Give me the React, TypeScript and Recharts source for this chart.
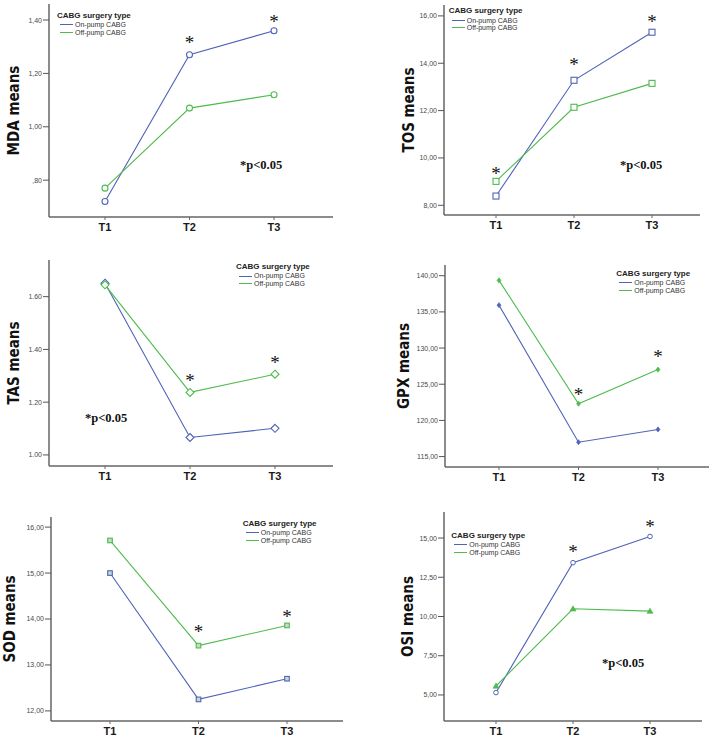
import { LineChart, Line, XAxis, YAxis, ReferenceDot } from 'recharts';

const timepoints = ['T1', 'T2', 'T3'];

const mdaOnPump = [0.72, 1.27, 1.36];
const mdaOffPump = [0.77, 1.07, 1.12];
const mdaTicks = [0.8, 1.0, 1.2, 1.4];
const mdaStars = [{ time: 'T2', value: 1.325 }, { time: 'T3', value: 1.404 }];

const tosOnPump = [8.39, 13.28, 15.31];
const tosOffPump = [9.01, 12.14, 13.15];
const tosTicks = [8, 10, 12, 14, 16];
const tosStars = [{ time: 'T1', value: 9.42 }, { time: 'T2', value: 14.03 }, { time: 'T3', value: 15.86 }];

const tasOnPump = [1.651, 1.066, 1.101];
const tasOffPump = [1.645, 1.237, 1.306];
const tasTicks = [1.0, 1.2, 1.4, 1.6];
const tasStars = [{ time: 'T2', value: 1.29 }, { time: 'T3', value: 1.359 }];

const gpxOnPump = [135.93, 116.98, 118.75];
const gpxOffPump = [139.36, 122.31, 127.02];
const gpxTicks = [115, 120, 125, 130, 135, 140];
const gpxStars = [{ time: 'T2', value: 123.84 }, { time: 'T3', value: 129.2 }];

const sodOnPump = [15.0, 12.25, 12.7];
const sodOffPump = [15.71, 13.42, 13.86];
const sodTicks = [12, 13, 14, 15, 16];
const sodStars = [{ time: 'T2', value: 13.77 }, { time: 'T3', value: 14.11 }];

const osiOnPump = [5.15, 13.43, 15.1];
const osiOffPump = [5.57, 10.49, 10.34];
const osiTicks = [5, 7.5, 10, 12.5, 15];
const osiStars = [{ time: 'T2', value: 14.29 }, { time: 'T3', value: 15.85 }];

const seriesNames = ['On-pump CABG', 'Off-pump CABG'];
const legendTitle = 'CABG surgery type';
const pText = '*p<0.05';

const BLUE = '#5063b8';
const GREEN = '#4dbb4d';
const SANS = "'Liberation Sans', Arial, sans-serif";
const NARROW = "'Liberation Sans Narrow', 'DejaVu Sans Condensed', 'Liberation Sans', sans-serif";
const SERIF = "'Liberation Serif', 'Times New Roman', serif";

type Marker = 'circle' | 'smallCircle' | 'square' | 'smallSquare' | 'diamond' | 'smallDiamond' | 'triangle';

interface PanelConfig {
  key: string;
  title: string;
  onPump: number[];
  offPump: number[];
  ticks: number[];
  stars: { time: string; value: number }[];
  sep: string;
  domain: [number, number];
  box: { left: number; top: number; height: number };
  marginTop: number;
  marginRight: number;
  yWidth: number;
  xHeight: number;
  pad: [number, number];
  titleX: number;
  markers: [Marker, Marker];
  legend: { left: number; top: number };
  pLabel?: { left: number; top: number };
}

const panels: PanelConfig[] = [
  {
    key: 'mda', title: 'MDA means', onPump: mdaOnPump, offPump: mdaOffPump, ticks: mdaTicks, stars: mdaStars, sep: ',',
    domain: [0.662, 1.46], box: { left: 0, top: 0, height: 250 }, marginTop: 4, marginRight: 24, yWidth: 49, xHeight: 33,
    pad: [56, 59], titleX: 14, markers: ['circle', 'circle'], legend: { left: 57, top: 10.5 }, pLabel: { left: 240, top: 158 },
  },
  {
    key: 'tos', title: 'TOS means', onPump: tosOnPump, offPump: tosOffPump, ticks: tosTicks, stars: tosStars, sep: ',',
    domain: [7.59, 16.46], box: { left: 357, top: 0, height: 250 }, marginTop: 5, marginRight: 14, yWidth: 87, xHeight: 35,
    pad: [52, 48], titleX: 51.7, markers: ['square', 'square'], legend: { left: 91.7, top: 6.2 }, pLabel: { left: 263, top: 158 },
  },
  {
    key: 'tas', title: 'TAS means', onPump: tasOnPump, offPump: tasOffPump, ticks: tasTicks, stars: tasStars, sep: '.',
    domain: [0.958, 1.739], box: { left: 0, top: 250, height: 240 }, marginTop: 10, marginRight: 24, yWidth: 49, xHeight: 24,
    pad: [56, 58], titleX: 14, markers: ['diamond', 'diamond'], legend: { left: 236, top: 11.8 }, pLabel: { left: 85, top: 160.7 },
  },
  {
    key: 'gpx', title: 'GPX means', onPump: gpxOnPump, offPump: gpxOffPump, ticks: gpxTicks, stars: gpxStars, sep: ',',
    domain: [113.56, 141.48], box: { left: 357, top: 250, height: 240 }, marginTop: 15, marginRight: 5, yWidth: 88, xHeight: 23,
    pad: [54, 51], titleX: 46.7, markers: ['smallDiamond', 'smallDiamond'], legend: { left: 259.3, top: 18.5 },
  },
  {
    key: 'sod', title: 'SOD means', onPump: sodOnPump, offPump: sodOffPump, ticks: sodTicks, stars: sodStars, sep: ',',
    domain: [11.78, 16.22], box: { left: 0, top: 490, height: 250 }, marginTop: 27, marginRight: 14, yWidth: 51, xHeight: 19,
    pad: [59, 56], titleX: 10, markers: ['smallSquare', 'smallSquare'], legend: { left: 242.7, top: 28.5 },
  },
  {
    key: 'osi', title: 'OSI means', onPump: osiOnPump, offPump: osiOffPump, ticks: osiTicks, stars: osiStars, sep: ',',
    domain: [3.34, 16.66], box: { left: 357, top: 490, height: 250 }, marginTop: 22, marginRight: 12, yWidth: 87, xHeight: 19,
    pad: [52, 52], titleX: 50.7, markers: ['smallCircle', 'triangle'], legend: { left: 94.3, top: 40.5 }, pLabel: { left: 245, top: 166 },
  },
];

// SPSS style: two decimals, no leading zero
function spssFormat(value: number, sep: string) {
  let s = value.toFixed(2).replace('.', sep);
  if (s.startsWith('0')) s = s.slice(1);
  return s;
}

function renderMarker(kind: Marker, color: string) {
  return (props: any) => {
    const { cx, cy, index } = props;
    const k = `m-${index}`;
    if (cx == null || cy == null) return <g key={k} />;
    switch (kind) {
      case 'circle':
        return <circle key={k} cx={cx} cy={cy} r={3} fill="#fff" stroke={color} strokeWidth={1.1} />;
      case 'smallCircle':
        return <circle key={k} cx={cx} cy={cy} r={2.3} fill="#fff" stroke={color} strokeWidth={1} />;
      case 'square':
        return <rect key={k} x={cx - 3} y={cy - 3} width={6} height={6} fill="#fff" stroke={color} strokeWidth={1.1} />;
      case 'smallSquare':
        return <rect key={k} x={cx - 2.3} y={cy - 2.3} width={4.6} height={4.6} fill="#c9d9c9" stroke={color} strokeWidth={1.1} />;
      case 'diamond':
        return <path key={k} d={`M${cx},${cy - 4}L${cx + 4},${cy}L${cx},${cy + 4}L${cx - 4},${cy}Z`} fill="#fff" stroke={color} strokeWidth={1.1} />;
      case 'smallDiamond':
        return <path key={k} d={`M${cx},${cy - 2.6}L${cx + 2},${cy}L${cx},${cy + 2.6}L${cx - 2},${cy}Z`} fill={color} stroke={color} strokeWidth={0.6} />;
      case 'triangle':
        return <path key={k} d={`M${cx},${cy - 3}L${cx + 3},${cy + 2.2}L${cx - 3},${cy + 2.2}Z`} fill={color} stroke={color} strokeWidth={0.6} />;
    }
    return <g key={k} />;
  };
}

function Star(props: any) {
  const fs = 19;
  return (
    <text x={props.cx} y={props.cy + fs * 0.46} textAnchor="middle" fontFamily={SERIF} fontSize={fs} fill="#111">
      *
    </text>
  );
}

function Panel({ cfg }: { cfg: PanelConfig }) {
  const data = timepoints.map((time, i) => ({ time, onPump: cfg.onPump[i], offPump: cfg.offPump[i] }));
  const width = 357;
  return (
    <div style={{ position: 'absolute', left: cfg.box.left, top: cfg.box.top, width, height: cfg.box.height }}>
      <LineChart
        width={width}
        height={cfg.box.height}
        data={data}
        margin={{ top: cfg.marginTop, right: cfg.marginRight, bottom: 0, left: 0 }}
      >
        <XAxis
          dataKey="time"
          height={cfg.xHeight}
          padding={{ left: cfg.pad[0], right: cfg.pad[1] }}
          axisLine={{ stroke: '#666', strokeWidth: 1.5 }}
          tickLine={{ stroke: '#666' }}
          tickSize={3}
          tickMargin={3}
          tick={{ fontSize: 11, fontWeight: 700, fill: '#1a1a1a', fontFamily: SANS }}
        />
        <XAxis xAxisId="frameTop" orientation="top" height={0} tick={false} tickLine={false} axisLine={{ stroke: '#aaa' }} />
        <YAxis
          type="number"
          width={cfg.yWidth}
          domain={cfg.domain}
          ticks={cfg.ticks}
          allowDataOverflow
          interval={0}
          axisLine={{ stroke: '#666', strokeWidth: 1.5 }}
          tickLine={{ stroke: '#555' }}
          tickSize={6}
          tickMargin={1}
          tickFormatter={(v: number) => spssFormat(v, cfg.sep)}
          tick={{ fontSize: 7, fill: '#4a4a4a', fontFamily: SANS }}
          label={{
            value: cfg.title,
            angle: -90,
            position: 'insideLeft',
            offset: cfg.titleX,
            style: { textAnchor: 'middle', fontSize: 15, fontWeight: 700, fill: '#111', fontFamily: NARROW },
          }}
        />
        <YAxis yAxisId="frameRight" orientation="right" type="number" width={0} domain={[0, 1]} tick={false} tickLine={false} axisLine={{ stroke: '#aaa' }} />
        <Line
          dataKey="onPump"
          name={seriesNames[0]}
          stroke={BLUE}
          strokeWidth={1.1}
          dot={renderMarker(cfg.markers[0], BLUE)}
          activeDot={false}
          isAnimationActive={false}
        />
        <Line
          dataKey="offPump"
          name={seriesNames[1]}
          stroke={GREEN}
          strokeWidth={1.1}
          dot={renderMarker(cfg.markers[1], GREEN)}
          activeDot={false}
          isAnimationActive={false}
        />
        {cfg.stars.map((s) => (
          <ReferenceDot key={s.time} x={s.time} y={s.value} r={0} ifOverflow="visible" shape={Star} />
        ))}
      </LineChart>
      <div style={{ position: 'absolute', left: cfg.legend.left, top: cfg.legend.top, fontFamily: SANS, whiteSpace: 'nowrap' }}>
        <div style={{ fontSize: 8, fontWeight: 700, lineHeight: '10.5px', color: '#222' }}>{legendTitle}</div>
        {seriesNames.map((name, i) => (
          <div key={name} style={{ display: 'flex', alignItems: 'center', height: 7.5, marginLeft: 3 }}>
            <span style={{ display: 'inline-block', width: 13, height: 1, background: i === 0 ? BLUE : GREEN, marginRight: 2 }} />
            <span style={{ fontSize: 7, lineHeight: '7.5px', color: '#333' }}>{name}</span>
          </div>
        ))}
      </div>
      {cfg.pLabel ? (
        <div
          style={{
            position: 'absolute',
            left: cfg.pLabel.left,
            top: cfg.pLabel.top,
            fontFamily: SERIF,
            fontWeight: 700,
            fontSize: 12.5,
            lineHeight: '14px',
            color: '#111',
            whiteSpace: 'nowrap',
          }}
        >
          {pText}
        </div>
      ) : null}
    </div>
  );
}

export default function App() {
  return (
    <div style={{ position: 'absolute', left: 0, top: 0, width: 714, height: 740, background: '#fff', overflow: 'hidden' }}>
      {panels.map((cfg) => (
        <Panel key={cfg.key} cfg={cfg} />
      ))}
    </div>
  );
}
